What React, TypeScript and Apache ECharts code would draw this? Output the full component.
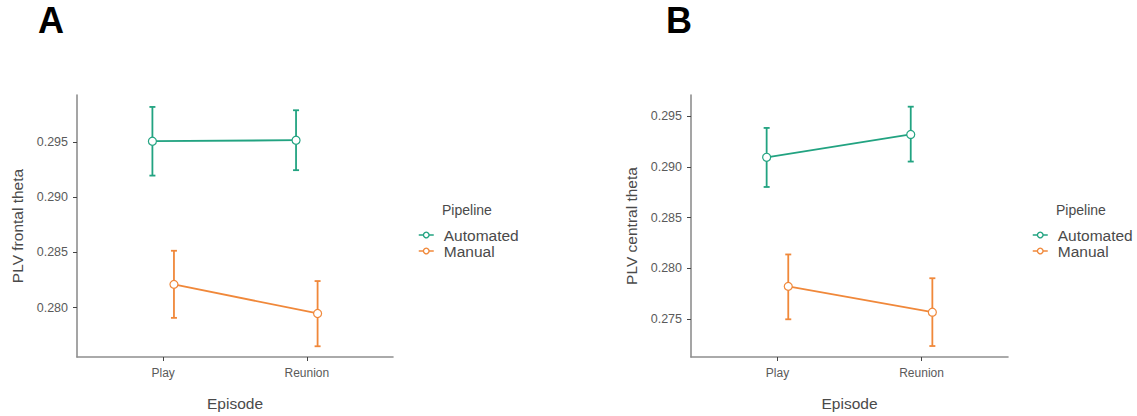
import React, { useEffect, useRef } from "react";
import * as echarts from "echarts";

const episodes = ["Play", "Reunion"];
const pipelines = ["Automated", "Manual"];
const dodge = [-0.075, 0.075];

// Panel A: PLV frontal theta
const frontalMean = { Automated: [0.29505, 0.29514], Manual: [0.2821, 0.27947] };
const frontalLow = { Automated: [0.29194, 0.29243], Manual: [0.27907, 0.2765] };
const frontalHigh = { Automated: [0.29815, 0.29785], Manual: [0.28514, 0.2824] };
const frontalTicks = [0.28, 0.285, 0.29, 0.295];

// Panel B: PLV central theta
const centralMean = { Automated: [0.29094, 0.29319], Manual: [0.27824, 0.2757] };
const centralLow = { Automated: [0.28802, 0.29052], Manual: [0.275, 0.27237] };
const centralHigh = { Automated: [0.29383, 0.29592], Manual: [0.28138, 0.27904] };
const centralTicks = [0.275, 0.28, 0.285, 0.29, 0.295];

const colors = { Automated: "#22a381", Manual: "#f0883a" };

export default function App() {
  const ref = useRef<HTMLDivElement>(null);
  useEffect(() => {
    if (!ref.current) return;
    const chart = echarts.init(ref.current, null, { renderer: "svg" });
    const axisGray = "#8f8f8f";
    const labelGray = "#5a5a5a";
    const titleGray = "#4a4a4a";
    const font = "Liberation Sans";

    const panels = [
      { left: 77, width: 316, yMin: 0.27553, yMax: 0.29923, ticks: frontalTicks, name: "PLV frontal theta", mean: frontalMean, low: frontalLow, high: frontalHigh },
      { left: 691, width: 317, yMin: 0.27129, yMax: 0.29707, ticks: centralTicks, name: "PLV central theta", mean: centralMean, low: centralLow, high: centralHigh },
    ];

    const grid = panels.map((p) => ({ left: p.left, top: 95, width: p.width, height: 271 }));
    const xAxis = panels.map((p, i) => ({
      type: "value",
      gridIndex: i,
      min: 0.4,
      max: 2.6,
      splitLine: { show: false },
      axisLine: { lineStyle: { color: axisGray, width: 1.6 } },
      axisTick: { show: true, customValues: [1, 2], length: 4, lineStyle: { color: "#444", width: 1 } },
      axisLabel: {
        customValues: [1, 2],
        formatter: (v: number) => episodes[Math.round(v) - 1] ?? "",
        color: labelGray,
        fontFamily: font,
        fontSize: 12,
        margin: 10,
      },
      name: "Episode",
      nameLocation: "middle",
      nameGap: 38,
      nameTextStyle: { color: titleGray, fontFamily: font, fontSize: 15.5 },
    }));
    const yAxis = panels.map((p, i) => ({
      type: "value",
      gridIndex: i,
      min: p.yMin,
      max: p.yMax,
      splitLine: { show: false },
      axisLine: { show: true, lineStyle: { color: axisGray, width: 1.6 } },
      axisTick: { show: true, customValues: p.ticks, length: 4, lineStyle: { color: "#444", width: 1 } },
      axisLabel: {
        customValues: p.ticks,
        formatter: (v: number) => v.toFixed(3),
        color: labelGray,
        fontFamily: font,
        fontSize: 12.5,
        margin: 9,
      },
      name: p.name,
      nameLocation: "middle",
      nameRotate: 90,
      nameGap: 52,
      nameTextStyle: { color: titleGray, fontFamily: font, fontSize: 15.5 },
    }));

    const series: any[] = [];
    panels.forEach((p, pi) => {
      pipelines.forEach((pl, k) => {
        const color = (colors as any)[pl];
        const mean = (p.mean as any)[pl] as number[];
        const low = (p.low as any)[pl] as number[];
        const high = (p.high as any)[pl] as number[];
        series.push({
          type: "custom",
          xAxisIndex: pi,
          yAxisIndex: pi,
          silent: true,
          data: episodes.map((_, j) => [j + 1 + dodge[k], low[j], high[j]]),
          renderItem: (params: any, api: any) => {
            const x = api.value(0);
            const lo = api.coord([x, api.value(1)]);
            const hi = api.coord([x, api.value(2)]);
            const cap = 3;
            const st = { stroke: color, lineWidth: 1.8 };
            return {
              type: "group",
              children: [
                { type: "line", shape: { x1: lo[0], y1: lo[1], x2: hi[0], y2: hi[1] }, style: st },
                { type: "line", shape: { x1: lo[0] - cap, y1: lo[1], x2: lo[0] + cap, y2: lo[1] }, style: st },
                { type: "line", shape: { x1: hi[0] - cap, y1: hi[1], x2: hi[0] + cap, y2: hi[1] }, style: st },
              ],
            };
          },
          z: 2,
        });
        series.push({
          name: pl,
          type: "line",
          xAxisIndex: pi,
          yAxisIndex: pi,
          data: episodes.map((_, j) => [j + 1 + dodge[k], mean[j]]),
          symbol: "circle",
          symbolSize: 8,
          showSymbol: true,
          lineStyle: { color, width: 1.8 },
          itemStyle: { color: "#ffffff", borderColor: color, borderWidth: 1.2 },
          z: 3,
        });
      });
    });

    const legendBase = {
      orient: "vertical",
      padding: 0,
      itemWidth: 15,
      itemHeight: 7,
      itemGap: 0,
      data: pipelines.map((pl) => ({
        name: pl,
        itemStyle: { color: "#ffffff", borderColor: (colors as any)[pl], borderWidth: 1.3 },
        lineStyle: { color: (colors as any)[pl], width: 1.5 },
      })),
      textStyle: { color: titleGray, fontFamily: font, fontSize: 15.5, lineHeight: 16, padding: [0, 0, 0, 5] },
      selectedMode: false,
    };

    const letterStyle = { fontFamily: "Liberation Sans", fontWeight: "bold", fontSize: 36, color: "#000" };

    chart.setOption({
      animation: false,
      backgroundColor: "#ffffff",
      title: [
        { text: "A", left: 38, top: 2, padding: 0, textStyle: letterStyle },
        { text: "B", left: 666, top: 2, padding: 0, textStyle: letterStyle },
        { text: "Pipeline", left: 437, top: 198, textStyle: { fontFamily: font, fontWeight: "normal", fontSize: 14, color: titleGray } },
        { text: "Pipeline", left: 1051, top: 198, textStyle: { fontFamily: font, fontWeight: "normal", fontSize: 14, color: titleGray } },
      ],
      legend: [
        { ...legendBase, left: 418, top: 227 },
        { ...legendBase, left: 1032, top: 227 },
      ],
      grid,
      xAxis,
      yAxis,
      series,
    } as any);
    return () => chart.dispose();
  }, []);
  return <div ref={ref} style={{ position: "fixed", left: 0, top: 0, width: 1137, height: 416 }} />;
}
